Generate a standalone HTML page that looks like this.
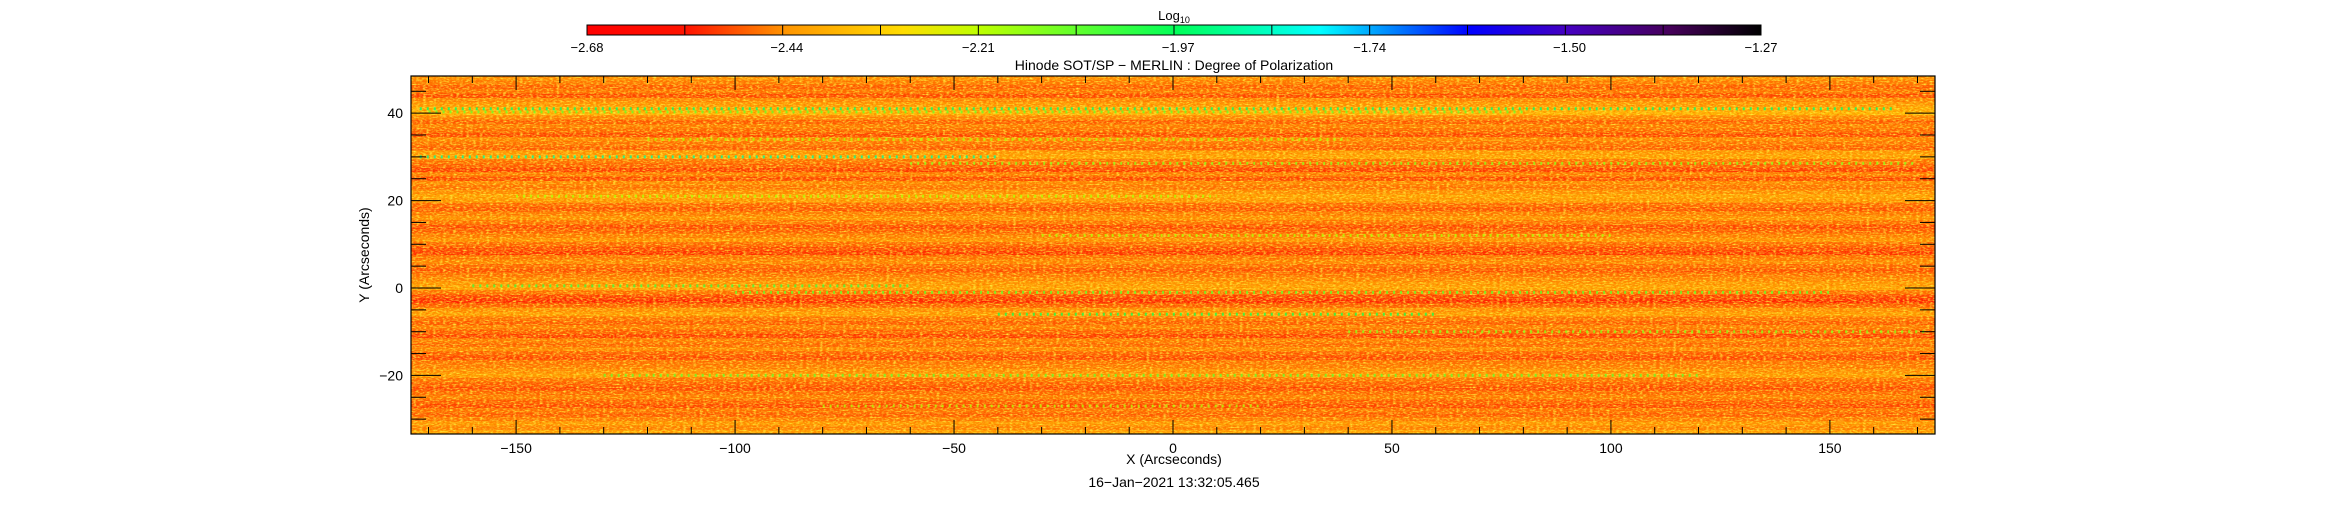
<!DOCTYPE html>
<html><head><meta charset="utf-8"><style>
body{margin:0;background:#fff;}
svg text{font-family:"Liberation Sans",sans-serif;fill:#000;}
</style></head><body>
<svg id="chart" width="2346" height="512" viewBox="0 0 2346 512" xmlns="http://www.w3.org/2000/svg">
<defs>
<linearGradient id="cbar" x1="0" x2="1" y1="0" y2="0"></linearGradient>
<filter id="noiseY" x="0" y="0" width="100%" height="100%">
<feTurbulence type="fractalNoise" baseFrequency="0.3 0.7" numOctaves="2" seed="3" result="t"/>
<feColorMatrix in="t" type="matrix" values="0 0 0 0 1  0 0 0 0 0.9  0 0 0 0 0.05  0 2.2 0 0 -0.95"/>
</filter>
<filter id="noiseR" x="0" y="0" width="100%" height="100%">
<feTurbulence type="fractalNoise" baseFrequency="0.35 0.8" numOctaves="2" seed="11" result="t"/>
<feColorMatrix in="t" type="matrix" values="0 0 0 0 1  0 0 0 0 0.15  0 0 0 0 0  0 2.2 0 0 -1.0"/>
</filter>
<clipPath id="plotclip"><rect x="411" y="76" width="1524" height="358"/></clipPath>
</defs>
<g id="cb"></g>
<g id="plot" clip-path="url(#plotclip)"></g>
<g id="axes"></g>
<text x="1174" y="20" font-size="13" text-anchor="middle">Log<tspan font-size="9" dy="3">10</tspan></text>
<text x="1174" y="70" font-size="14" text-anchor="middle">Hinode SOT/SP − MERLIN : Degree of Polarization</text>
<text x="1174" y="464" font-size="14" text-anchor="middle">X (Arcseconds)</text>
<text x="0" y="0" font-size="14" text-anchor="middle" transform="translate(369,255) rotate(-90)">Y (Arcseconds)</text>
<text x="1174" y="487" font-size="14" text-anchor="middle">16−Jan−2021 13:32:05.465</text>
</svg>
<script>
const cbTicks=[-2.68,-2.44,-2.21,-1.97,-1.74,-1.50,-1.27];
const rowY=[48,47,46,45,44,43,42,41,40,39,38,37,36,35,34,33,32,31,30,29,28,27,26,25,24,23,22,21,20,19,18,17,16,15,14,13,12,11,10,9,8,7,6,5,4,3,2,1,0,-1,-2,-3,-4,-5,-6,-7,-8,-9,-10,-11,-12,-13,-14,-15,-16,-17,-18,-19,-20,-21,-22,-23,-24,-25,-26,-27,-28,-29,-30,-31,-32,-33];
const rowVal=[-2.45,-2.47,-2.5,-2.48,-2.52,-2.46,-2.44,-2.4,-2.38,-2.46,-2.5,-2.47,-2.49,-2.52,-2.46,-2.48,-2.5,-2.44,-2.42,-2.48,-2.5,-2.53,-2.47,-2.52,-2.46,-2.48,-2.45,-2.42,-2.44,-2.49,-2.51,-2.47,-2.45,-2.48,-2.52,-2.5,-2.47,-2.45,-2.49,-2.52,-2.54,-2.48,-2.46,-2.49,-2.51,-2.48,-2.46,-2.44,-2.42,-2.48,-2.53,-2.55,-2.5,-2.45,-2.43,-2.48,-2.5,-2.47,-2.5,-2.53,-2.47,-2.49,-2.46,-2.5,-2.52,-2.48,-2.47,-2.45,-2.43,-2.48,-2.5,-2.52,-2.49,-2.47,-2.5,-2.52,-2.48,-2.5,-2.47,-2.44,-2.46,-2.42];
const streakY=[41,40.3,34,30,28.5,21,12,0.5,-1,-6,-10,-20,-27];
const streakX0=[-172,-170,-120,-172,-60,-150,-30,-160,-100,-40,40,-130,-80];
const streakX1=[165,80,40,-40,170,10,100,-60,150,60,172,120,20];
const streakVal=[-1.95,-2.1,-2.2,-1.9,-2.15,-2.2,-2.2,-2.05,-2.1,-2.0,-2.15,-2.1,-2.2];
const xTicks=[-150,-100,-50,0,50,100,150];
const yTicks=[-20,0,20,40];
const NS="http://www.w3.org/2000/svg";
const xmin=-174,xmax=174,ymin=-33.4,ymax=48.5,L=411,R=1935,T=76,B=434;
const sx=v=>L+(v-xmin)/(xmax-xmin)*(R-L);
const sy=v=>B-(v-ymin)/(ymax-ymin)*(B-T);
const cbL=587,cbR=1761,cbT=25,cbB=35;
const cvx=v=>cbL+(v-cbTicks[0])/(cbTicks[6]-cbTicks[0])*(cbR-cbL);
const stops=[[-2.68,[255,0,0]],[-2.56,[255,20,0]],[-2.44,[255,150,0]],[-2.3,[255,220,0]],[-2.21,[190,255,0]],[-1.97,[0,255,90]],[-1.8,[0,255,255]],[-1.62,[0,0,255]],[-1.50,[70,0,190]],[-1.38,[70,0,90]],[-1.27,[0,0,0]]];
function cmap(v){for(let i=0;i<stops.length-1;i++){const a=stops[i],b=stops[i+1];if(v<=b[0]||i==stops.length-2){let t=Math.max(0,Math.min(1,(v-a[0])/(b[0]-a[0])));const c=a[1].map((x,k)=>Math.round(x+(b[1][k]-x)*t));return `rgb(${c})`;}}}
function el(t,a,p){const e=document.createElementNS(NS,t);for(const k in a)e.setAttribute(k,a[k]);p.appendChild(e);return e;}
const g=document.getElementById('cbar');
stops.forEach(s=>{el('stop',{offset:((s[0]-cbTicks[0])/(cbTicks[6]-cbTicks[0])),'stop-color':cmap(s[0])},g);});
const cb=document.getElementById('cb');
const bar=el('rect',{x:cbL,y:cbT,width:cbR-cbL,height:cbB-cbT,fill:'url(#cbar)',stroke:'#000','stroke-width':1},cb);


for(let i=0;i<=12;i++){const v=cbTicks[0]+(cbTicks[6]-cbTicks[0])*i/12;const x=cvx(v);el('line',{x1:x,x2:x,y1:cbT,y2:cbB,stroke:'#000'},cb);}
cbTicks.forEach(v=>{const t=el('text',{x:cvx(v),y:52,'font-size':13,'text-anchor':'middle'},cb);t.textContent=v.toFixed(2).replace('-','−');

});
const p=document.getElementById('plot');
el('rect',{x:L,y:T,width:R-L,height:B-T,fill:cmap(-2.47)},p);
rowY.forEach((y,i)=>{const r=el('rect',{x:L,y:sy(y+0.5),width:R-L,height:sy(y-0.5)-sy(y+0.5)+0.5,fill:cmap(rowVal[i])},p);

});
el('rect',{x:L,y:T,width:R-L,height:B-T,filter:'url(#noiseR)',fill:'#fff'},p);
el('rect',{x:L,y:T,width:R-L,height:B-T,filter:'url(#noiseY)',fill:'#fff'},p);
streakY.forEach((y,i)=>{const s=el('line',{x1:sx(streakX0[i]),x2:sx(streakX1[i]),y1:sy(y),y2:sy(y),stroke:cmap(streakVal[i]),'stroke-width':3,'stroke-dasharray':'2 5','opacity':0.8},p);

});
const ax=document.getElementById('axes');
el('rect',{x:L,y:T,width:R-L,height:B-T,fill:'none',stroke:'#000','stroke-width':1.2},ax);
for(let v=-170;v<=170;v+=10){const x=sx(v);const len=v%50==0?14:7;el('line',{x1:x,x2:x,y1:B,y2:B-len,stroke:'#000'},ax);el('line',{x1:x,x2:x,y1:T,y2:T+len,stroke:'#000'},ax);}
for(let v=-30;v<=45;v+=5){const y=sy(v);const len=v%20==0?30:15;el('line',{x1:L,x2:L+len,y1:y,y2:y,stroke:'#000'},ax);el('line',{x1:R,x2:R-len,y1:y,y2:y,stroke:'#000'},ax);}
xTicks.forEach(v=>{const t=el('text',{x:sx(v),y:453,'font-size':14,'text-anchor':'middle'},ax);t.textContent=String(v).replace('-','−');

});
yTicks.forEach(v=>{const t=el('text',{x:403,y:sy(v)+5,'font-size':14,'text-anchor':'end'},ax);t.textContent=String(v).replace('-','−');

});
</script>
</body></html>
